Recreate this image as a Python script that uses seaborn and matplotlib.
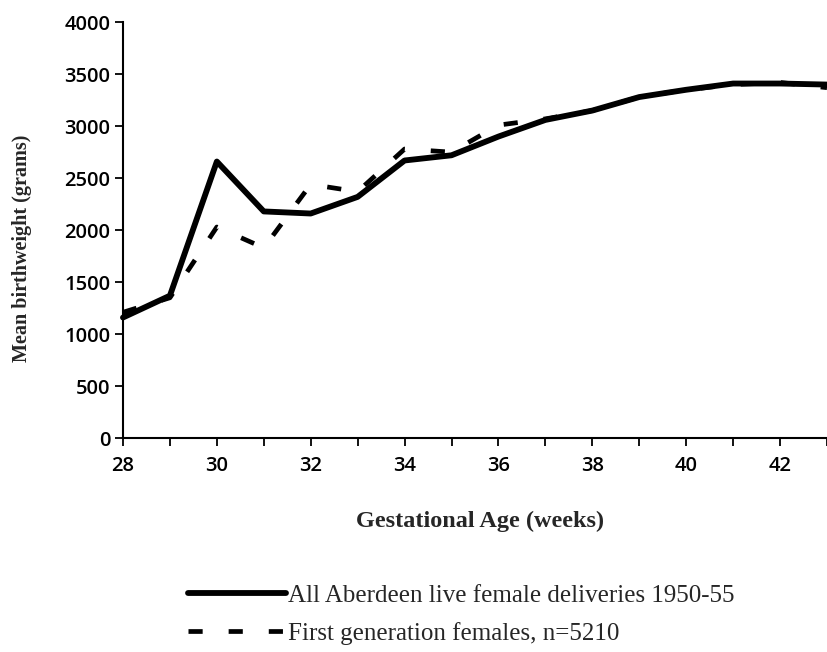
import matplotlib
matplotlib.use("Agg")
import matplotlib.pyplot as plt
import seaborn as sns
import pandas as pd
from matplotlib.ticker import MultipleLocator
from matplotlib.lines import Line2D

weeks = list(range(28, 44))
all_deliveries = [1160, 1370, 2660, 2180, 2160, 2320, 2670, 2720, 2900, 3060,
                  3150, 3280, 3350, 3410, 3410, 3400]
first_gen = [1210, 1350, 2030, 1830, 2440, 2370, 2780, 2750, 3010, 3070,
             3150, 3280, 3350, 3400, 3420, 3370]
series_names = ["All Aberdeen live female deliveries 1950-55",
                "First generation females, n=5210"]

df = pd.concat([
    pd.DataFrame({"week": weeks, "weight": all_deliveries, "series": series_names[0]}),
    pd.DataFrame({"week": weeks, "weight": first_gen, "series": series_names[1]}),
])

sns.set_style("white")
plt.rcParams["font.family"] = ["Liberation Serif", "DejaVu Serif"]

DASH = (3, 5.5)
fig = plt.figure(figsize=(8.27, 6.52), dpi=100)
ax = fig.add_axes([0.1487, 0.328, 0.8513, 0.638])

sns.lineplot(data=df, x="week", y="weight", hue="series", style="series",
             palette={series_names[0]: "black", series_names[1]: "black"},
             dashes={series_names[0]: "", series_names[1]: DASH},
             ax=ax, legend=False, clip_on=False)
lines = ax.get_lines()
lines[0].set_linewidth(4.2)
lines[1].set_linewidth(3.4)
lines[0].set_zorder(3)

ax.set_xlim(28, 43)
ax.set_ylim(0, 4000)
ax.xaxis.set_major_locator(MultipleLocator(2))
ax.xaxis.set_minor_locator(MultipleLocator(1))
ax.yaxis.set_major_locator(MultipleLocator(500))
ax.tick_params(axis="both", which="both", direction="out", length=6, width=1.3,
               colors="black", bottom=True, left=True)
ax.tick_params(axis="x", pad=7)
ax.tick_params(axis="y", pad=3)
for lab in ax.get_xticklabels() + ax.get_yticklabels():
    lab.set_fontfamily(["Open Sans", "DejaVu Sans"])
    lab.set_fontsize(14.5)
    lab.set_fontweight("semibold")
for s in ["top", "right"]:
    ax.spines[s].set_visible(False)
for s in ["left", "bottom"]:
    ax.spines[s].set_linewidth(1.5)
    ax.spines[s].set_color("black")

ax.set_xlabel("Gestational Age (weeks)", fontsize=17.5, fontweight="bold")
ax.xaxis.set_label_coords(0.507, -0.2)
ax.xaxis.label.set_va("center")
ax.set_ylabel("Mean birthweight (grams)", fontsize=14.5, fontweight="bold")
ax.yaxis.set_label_coords(-0.1435, 0.457)
ax.yaxis.label.set_va("center")
ax.yaxis.label.set_ha("center")

handles = [Line2D([0], [0], color="black", lw=4.2),
           Line2D([0], [0], color="black", lw=3.4, dashes=DASH)]
fig.legend(handles, series_names, loc="center left", bbox_to_anchor=(188 / 827, 0.0575),
           frameon=False, prop={"family": "Liberation Serif", "size": 18},
           handlelength=3.9, handletextpad=0.08, labelspacing=0.62,
           borderpad=0, borderaxespad=0)

fig.savefig("out.png", dpi=100)
